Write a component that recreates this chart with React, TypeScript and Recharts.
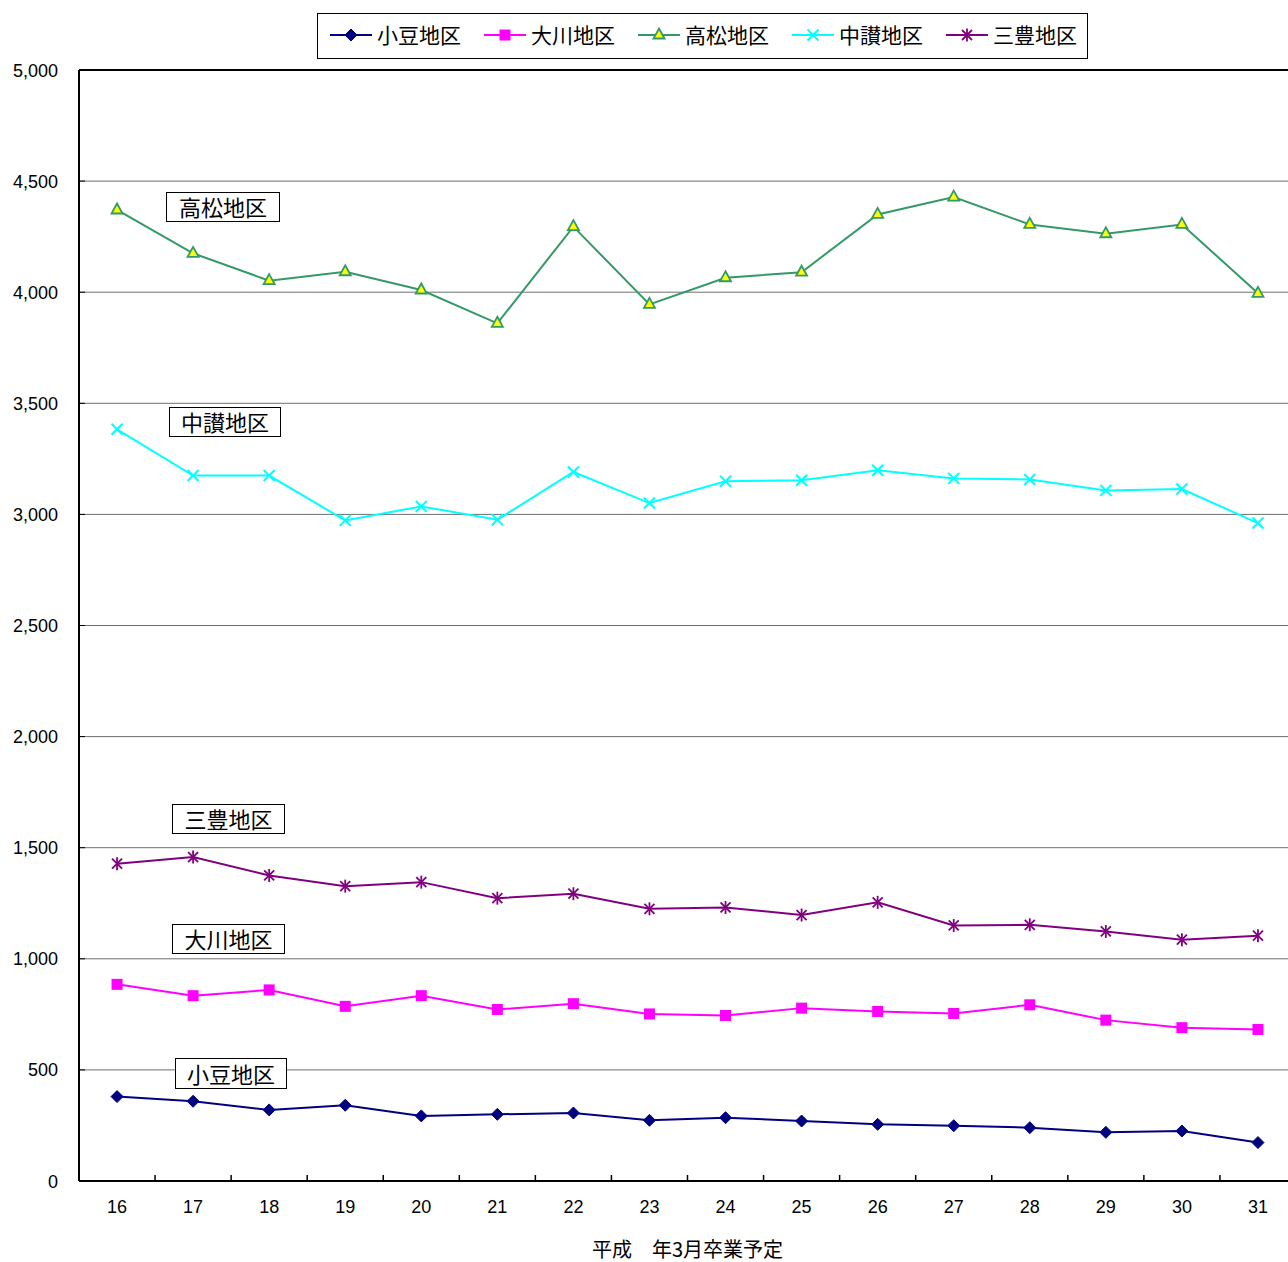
import React from 'react';
import { LineChart, Line, XAxis, YAxis, CartesianGrid, ReferenceLine } from 'recharts';

// 卒業予定年（平成）
const years = ['16', '17', '18', '19', '20', '21', '22', '23', '24', '25', '26', '27', '28', '29', '30', '31'];

const shodo = [380, 359, 320, 341, 293, 300, 306, 273, 285, 270, 255, 249, 240, 219, 225, 173];
const okawa = [885, 834, 860, 786, 834, 772, 798, 752, 745, 778, 763, 754, 793, 724, 690, 682];
const takamatsu = [4370, 4175, 4052, 4092, 4010, 3860, 4295, 3945, 4065, 4090, 4350, 4428, 4305, 4263, 4305, 3995];
const chusan = [3383, 3175, 3175, 2973, 3036, 2976, 3191, 3051, 3149, 3154, 3199, 3162, 3157, 3108, 3114, 2961];
const mitoyo = [1428, 1458, 1375, 1327, 1345, 1273, 1293, 1225, 1231, 1197, 1254, 1150, 1153, 1123, 1086, 1104];

const yTicks = [0, 500, 1000, 1500, 2000, 2500, 3000, 3500, 4000, 4500, 5000];

const data = years.map((year, i) => ({
  year,
  shodo: shodo[i],
  okawa: okawa[i],
  takamatsu: takamatsu[i],
  chusan: chusan[i],
  mitoyo: mitoyo[i],
}));

const NUM_FONT = '"Liberation Sans", Arial, sans-serif';
const JP_FONT = '"Noto Sans CJK JP", "Noto Sans", sans-serif';

const PLOT_LEFT = 79;
const PLOT_RIGHT = 1296;
const BAND = (PLOT_RIGHT - PLOT_LEFT) / years.length;

type Marker = 'diamond' | 'square' | 'triangle' | 'cross' | 'star';

const series: { key: string; name: string; color: string; marker: Marker }[] = [
  { key: 'shodo', name: '小豆地区', color: '#000080', marker: 'diamond' },
  { key: 'okawa', name: '大川地区', color: '#FF00FF', marker: 'square' },
  { key: 'takamatsu', name: '高松地区', color: '#339966', marker: 'triangle' },
  { key: 'chusan', name: '中讃地区', color: '#00FFFF', marker: 'cross' },
  { key: 'mitoyo', name: '三豊地区', color: '#800080', marker: 'star' },
];

// 図中の地区名ラベル
const areaLabels = [
  { name: '高松地区', left: 166, top: 192, width: 114, height: 30 },
  { name: '中讃地区', left: 169, top: 407, width: 112, height: 30 },
  { name: '三豊地区', left: 172, top: 804, width: 113, height: 30 },
  { name: '大川地区', left: 172, top: 924, width: 113, height: 30 },
  { name: '小豆地区', left: 175, top: 1058, width: 112, height: 31 },
];

function markerShape(marker: Marker, color: string, cx: number, cy: number) {
  const s = 6;
  switch (marker) {
    case 'diamond':
      return <polygon points={`${cx},${cy - s} ${cx + s},${cy} ${cx},${cy + s} ${cx - s},${cy}`} fill={color} stroke={color} strokeWidth={1} />;
    case 'square':
      return <rect x={cx - 5.5} y={cy - 5.5} width={11} height={11} fill={color} />;
    case 'triangle':
      return <polygon points={`${cx},${cy - 6.5} ${cx + 5.5},${cy + 3.5} ${cx - 5.5},${cy + 3.5}`} fill="#FFFF00" stroke={color} strokeWidth={1.8} />;
    case 'cross':
      return (
        <g stroke={color} strokeWidth={2}>
          <line x1={cx - 5.5} y1={cy - 5.5} x2={cx + 5.5} y2={cy + 5.5} />
          <line x1={cx - 5.5} y1={cy + 5.5} x2={cx + 5.5} y2={cy - 5.5} />
        </g>
      );
    case 'star':
      return (
        <g stroke={color} strokeWidth={1.8}>
          <line x1={cx - 5} y1={cy - 5} x2={cx + 5} y2={cy + 5} />
          <line x1={cx - 5} y1={cy + 5} x2={cx + 5} y2={cy - 5} />
          <line x1={cx} y1={cy - 6.5} x2={cx} y2={cy + 6.5} />
        </g>
      );
  }
}

const makeDot = (marker: Marker, color: string) => (props: any) => {
  const { cx, cy, index } = props;
  if (cx == null || cy == null) return <g key={index} />;
  return <g key={index}>{markerShape(marker, color, cx, cy)}</g>;
};

const XTick = (props: any) => {
  const { x, y, payload, index } = props;
  const half = BAND / 2;
  return (
    <g>
      <line x1={x - half} x2={x - half} y1={y} y2={y - 6} stroke="#000" strokeWidth={1.5} />
      {index === years.length - 1 && <line x1={x + half} x2={x + half} y1={y} y2={y - 6} stroke="#000" strokeWidth={1.5} />}
      <text x={x} y={y + 32} textAnchor="middle" fontSize={18} fontFamily={NUM_FONT} fill="#000">
        {payload.value}
      </text>
    </g>
  );
};

const YTick = (props: any) => {
  const { x, y, payload } = props;
  return (
    <g>
      <line x1={x} x2={x + 6} y1={y} y2={y} stroke="#000" strokeWidth={1} />
      <text x={x - 21} y={y + 6.5} textAnchor="end" fontSize={18} fontFamily={NUM_FONT} fill="#000">
        {Number(payload.value).toLocaleString('en-US')}
      </text>
    </g>
  );
};

const XTitle = (props: any) => {
  const { viewBox } = props;
  return (
    <text x={viewBox.x + viewBox.width / 2} y={viewBox.y + 76} textAnchor="middle" fontSize={20} fontFamily={JP_FONT} fill="#000">
      平成　年3月卒業予定
    </text>
  );
};

function LegendBox() {
  return (
    <div
      style={{
        position: 'absolute',
        left: 317,
        top: 13,
        width: 771,
        height: 46,
        border: '1px solid #000',
        background: '#fff',
        display: 'flex',
        alignItems: 'center',
        paddingLeft: 12,
        paddingBottom: 3,
        boxSizing: 'border-box',
      }}
    >
      {series.map((s) => (
        <div key={s.key} style={{ display: 'flex', alignItems: 'center', width: 154, flexShrink: 0 }}>
          <svg width={42} height={20} style={{ display: 'block' }}>
            <line x1={0} x2={42} y1={10} y2={10} stroke={s.color} strokeWidth={2} />
            {markerShape(s.marker, s.color, 21, 10)}
          </svg>
          <span style={{ fontFamily: JP_FONT, fontSize: 21, color: '#000', marginLeft: 5, lineHeight: '21px', whiteSpace: 'nowrap' }}>{s.name}</span>
        </div>
      ))}
    </div>
  );
}

export default function App() {
  return (
    <div style={{ position: 'absolute', left: 0, top: 0, width: 1288, height: 1262, overflow: 'hidden', background: '#fff' }}>
      <LineChart width={1300} height={1262} data={data} margin={{ top: 70, right: 1300 - PLOT_RIGHT, bottom: 0, left: 0 }}>
        <CartesianGrid vertical={false} stroke="#6e6e6e" strokeWidth={1} />
        <XAxis
          dataKey="year"
          height={81}
          interval={0}
          padding={{ left: BAND / 2, right: BAND / 2 }}
          tickLine={false}
          tickSize={0}
          tickMargin={0}
          axisLine={{ stroke: '#000', strokeWidth: 2 }}
          tick={<XTick />}
          label={<XTitle />}
        />
        <YAxis
          width={PLOT_LEFT}
          domain={[0, 5000]}
          ticks={yTicks}
          interval={0}
          tickLine={false}
          tickSize={0}
          tickMargin={0}
          axisLine={{ stroke: '#000', strokeWidth: 2 }}
          tick={<YTick />}
        />
        <ReferenceLine y={5000} stroke="#000" strokeWidth={2} />
        {series.map((s) => (
          <Line
            key={s.key}
            type="linear"
            dataKey={s.key}
            name={s.name}
            stroke={s.color}
            strokeWidth={2}
            dot={makeDot(s.marker, s.color)}
            activeDot={false}
            isAnimationActive={false}
          />
        ))}
      </LineChart>
      <LegendBox />
      {areaLabels.map((l) => (
        <div
          key={l.name}
          style={{
            position: 'absolute',
            left: l.left,
            top: l.top,
            width: l.width,
            height: l.height,
            boxSizing: 'border-box',
            border: '1.5px solid #000',
            background: '#fff',
            fontFamily: JP_FONT,
            fontSize: 22,
            lineHeight: `${l.height - 3}px`,
            textAlign: 'center',
            color: '#000',
          }}
        >
          {l.name}
        </div>
      ))}
    </div>
  );
}
